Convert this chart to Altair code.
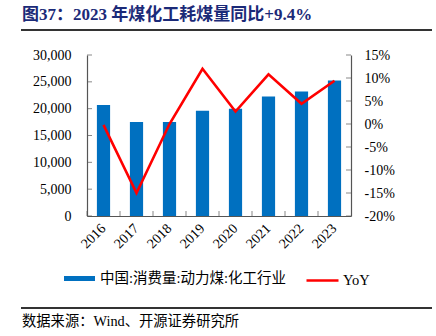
import altair as alt
import pandas as pd

# ---- data ----
years = ["2016", "2017", "2018", "2019", "2020", "2021", "2022", "2023"]
consumption = [20700, 17500, 17500, 19600, 20000, 22250, 23200, 25250]
yoy = [-0.2, -15.0, 0.0, 12.0, 2.7, 10.8, 4.4, 9.4]
bar_series = "中国:消费量:动力煤:化工行业"
line_series = "YoY"
left_ticks = [0, 5000, 10000, 15000, 20000, 25000, 30000]
right_ticks = [-20, -15, -10, -5, 0, 5, 10, 15]
title_text = "图37：2023 年煤化工耗煤量同比+9.4%"
source_text = "数据来源：Wind、开源证券研究所"

df = pd.DataFrame({"year": years, "value": consumption, "yoy": yoy,
                   "s1": [bar_series] * len(years), "s2": [line_series] * len(years)})
lt = pd.DataFrame({"value": left_ticks})
rt = pd.DataFrame({"yoy": right_ticks})
yt = pd.DataFrame({"year": years})

W, H = 264, 161
SERIF = "Liberation Serif, Noto Sans CJK SC"
AX = "#555555"

xscale = alt.Scale(paddingInner=0, paddingOuter=0)
xaxis = alt.Axis(title=None, labelAngle=-45, labelAlign="right", labelBaseline="middle",
                 labelFont="Liberation Serif", labelFontSize=14, labelColor="black",
                 ticks=False, tickSize=0, labelPadding=10, domainColor=AX, domainWidth=1.2,
                 labelOverlap=False)
left_axis = alt.Axis(title=None, orient="left", values=left_ticks,
                     labelExpr="format(datum.value, ',')",
                     labelFont="Liberation Serif", labelFontSize=14, labelColor="black",
                     ticks=False, tickSize=0, labelPadding=16, grid=False,
                     labelOverlap=False, domainColor=AX, domainWidth=1.2)
right_axis = alt.Axis(title=None, orient="right", values=right_ticks,
                      labelExpr="datum.value + '%'",
                      labelFont="Liberation Serif", labelFontSize=14, labelColor="black",
                      ticks=False, tickSize=0, labelPadding=13, grid=False,
                      labelOverlap=False, domainColor=AX, domainWidth=1.2)
lscale = alt.Scale(domain=[0, 30000])
rscale = alt.Scale(domain=[-20, 15])

bars = alt.Chart(df).mark_bar(width=alt.RelativeBandSize(0.4)).encode(
    x=alt.X("year:N", scale=xscale, axis=xaxis, sort=years),
    y=alt.Y("value:Q", scale=lscale, axis=left_axis),
    fill=alt.Fill("s1:N", scale=alt.Scale(domain=[bar_series], range=["#0070C0"]),
                  legend=alt.Legend(orient="none", legendX=-23, legendY=208, title=None,
                                    symbolType="M-1,-0.16H1V0.16H-1Z", symbolSize=961,
                                    symbolStrokeWidth=0, labelFont=SERIF, labelFontSize=14.5,
                                    labelColor="black", labelOffset=5, padding=0,
                                    labelLimit=0)),
)

left_tick_marks = alt.Chart(lt).mark_tick(color=AX, thickness=1, size=5, orient="horizontal").encode(
    y=alt.Y("value:Q", scale=lscale, axis=left_axis), x=alt.value(2.5))

x_tick_marks = alt.Chart(yt).mark_tick(color=AX, thickness=1, size=5, orient="vertical").encode(
    x=alt.X("year:N", bandPosition=0, sort=years, scale=xscale, axis=xaxis), y=alt.value(H - 2.5))

# separator lines (under the title, above the source note)
top_line = alt.Chart(pd.DataFrame({"k": ["a"]})).mark_rule(color="#333333", strokeWidth=2).encode(
    x=alt.value(-66), x2=alt.value(345), y=alt.value(-25))
bottom_line = alt.Chart(pd.DataFrame({"k": ["b"]})).mark_rule(color="#333333", strokeWidth=2).encode(
    x=alt.value(-66), x2=alt.value(345), y=alt.value(253))

left = alt.layer(bars, left_tick_marks, x_tick_marks)

line = alt.Chart(df).mark_line(strokeWidth=2.6).encode(
    x=alt.X("year:N", sort=years, scale=xscale, axis=xaxis),
    y=alt.Y("yoy:Q", scale=rscale, axis=right_axis),
    stroke=alt.Stroke("s2:N", scale=alt.Scale(domain=[line_series], range=["#FF0000"]),
                      legend=alt.Legend(orient="none", legendX=218, legendY=208, title=None,
                                        symbolType="stroke", symbolSize=1024,
                                        symbolStrokeWidth=2.5, labelFont=SERIF,
                                        labelFontSize=14.5, labelColor="black",
                                        labelOffset=3, padding=0, labelLimit=0)),
)

right_tick_marks = alt.Chart(rt).mark_tick(color=AX, thickness=1, size=5, orient="horizontal").encode(
    y=alt.Y("yoy:Q", scale=rscale, axis=right_axis), x=alt.value(W - 2.5))

right = alt.layer(line, right_tick_marks)

title_mark = alt.Chart(pd.DataFrame({"t": [title_text]})).mark_text(
    align="left", baseline="middle", font=SERIF, fontSize=17, fontWeight="bold",
    color="#1B2A78").encode(text="t:N", x=alt.value(-65), y=alt.value(-40))

source_mark = alt.Chart(pd.DataFrame({"t": [source_text]})).mark_text(
    align="left", baseline="middle", font=SERIF, fontSize=14.3,
    color="black").encode(text="t:N", x=alt.value(-65), y=alt.value(266.5))

chart = alt.layer(left, right, title_mark, source_mark, top_line, bottom_line).resolve_scale(
    y="independent", fill="independent", stroke="independent"
).properties(
    width=W, height=H,
    autosize=alt.AutoSizeParams(type="none"),
    padding={"left": 87, "top": 55, "right": 85, "bottom": 120},
).configure_view(stroke=None)

chart.save("out.html", embed_options={"renderer": "svg", "actions": False})
